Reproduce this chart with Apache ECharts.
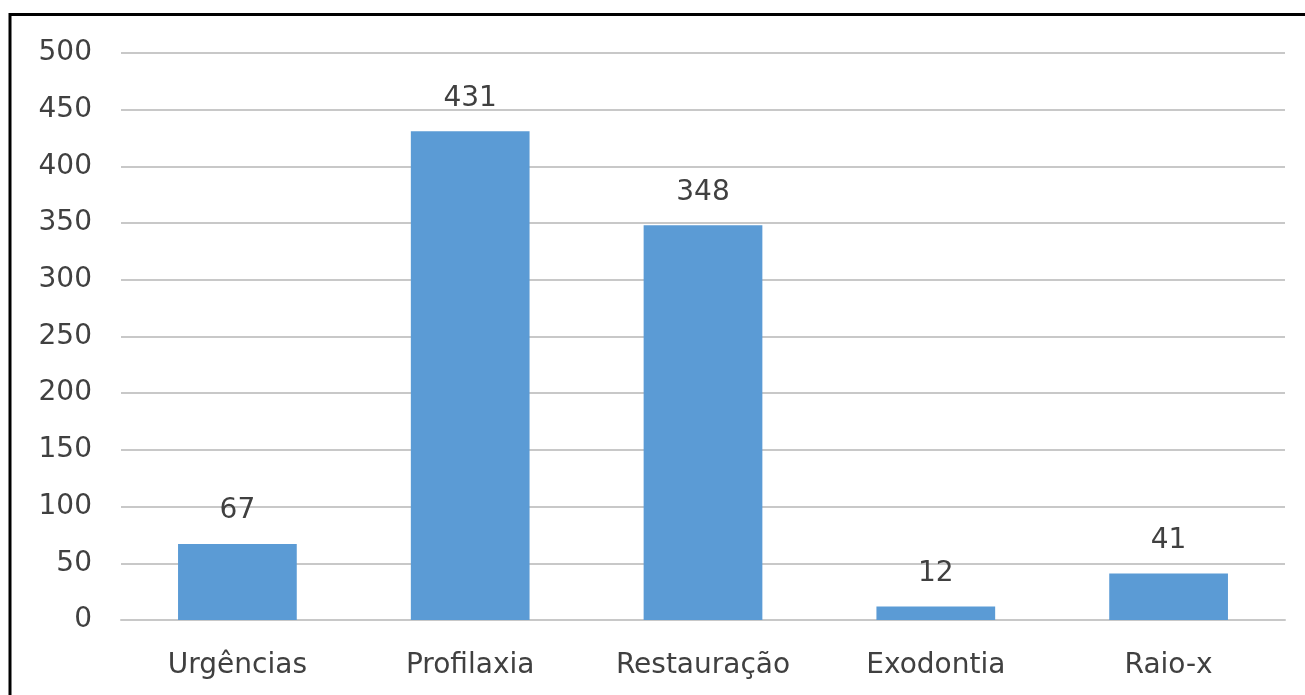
<!DOCTYPE html>
<html><head><meta charset="utf-8">
<script src="https://cdn.jsdelivr.net/npm/echarts@6/dist/echarts.min.js"></script>
<style>html,body{margin:0;padding:0;background:#fff}#c{width:1305px;height:695px}</style>
</head><body><div id="c"></div>
<script>
const categories = ['Urgências','Profilaxia','Restauração','Exodontia','Raio-x'];
const values = [67, 431, 348, 12, 41];
const yTicks = {min: 0, max: 500, interval: 50};
const chart = echarts.init(document.getElementById('c'));
const font = '"DejaVu Sans", sans-serif';
chart.setOption({
  animation: false,
  graphic: [{type:'rect', shape:{x:10, y:14.5, width:1400, height:800}, style:{fill:'none', stroke:'#000', lineWidth:3}, z:100}],
  grid: {left: 121, right: 20, top: 53, bottom: 75, containLabel: false},
  xAxis: {type:'category', data: categories,
    axisLine:{show:true, lineStyle:{color:'#c8c8c8', width:2}}, axisTick:{show:false},
    axisLabel:{color:'#404040', fontSize:28, fontFamily:font, margin:32}},
  yAxis: {type:'value', min: yTicks.min, max: yTicks.max, interval: yTicks.interval,
    axisLine:{show:false}, axisTick:{show:false},
    splitLine:{lineStyle:{color:'#c8c8c8', width:2}},
    axisLabel:{color:'#404040', fontSize:28, fontFamily:font, margin:29, padding:[5,0,0,0]}},
  series: [{type:'bar', data: values, barWidth:'51%', itemStyle:{color:'#5b9bd5'},
    label:{show:true, position:'top', distance:19, color:'#404040', fontSize:28, fontFamily:font}}]
});
</script></body></html>
